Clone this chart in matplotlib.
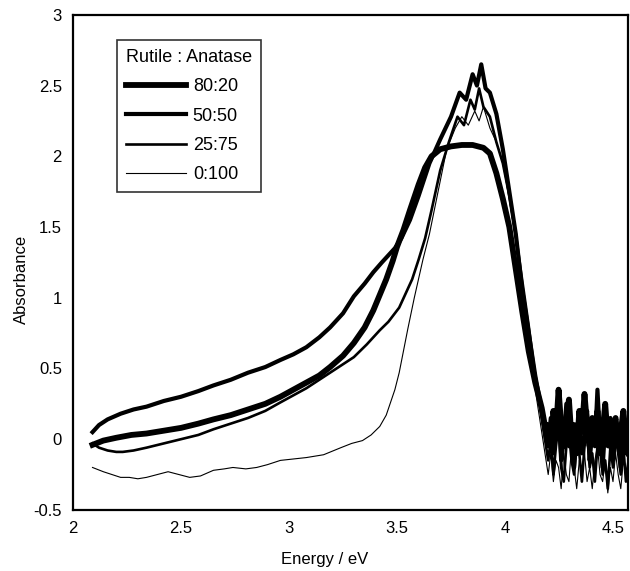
import matplotlib
matplotlib.use("Agg")
import matplotlib.pyplot as plt

plt.rcParams['font.family'] = ['Liberation Sans', 'DejaVu Sans']

# ---- data ----
tail_energy = [4.200, 4.212, 4.224, 4.236, 4.248, 4.260, 4.272, 4.284, 4.296,
               4.308, 4.320, 4.332, 4.344, 4.356, 4.368, 4.380, 4.392, 4.404,
               4.416, 4.428, 4.440, 4.452, 4.464, 4.476, 4.488, 4.500, 4.512,
               4.524, 4.536, 4.548, 4.560, 4.572]

energy_8020 = [2.09, 2.14, 2.20, 2.27, 2.34, 2.42, 2.50, 2.58, 2.65, 2.73, 2.81,
               2.89, 2.96, 3.02, 3.08, 3.14, 3.19, 3.25, 3.30, 3.35, 3.39, 3.42,
               3.45, 3.48, 3.50, 3.53, 3.56, 3.60, 3.63, 3.66, 3.70, 3.75, 3.80,
               3.85, 3.90, 3.93, 3.96, 3.99, 4.02, 4.05, 4.08, 4.11, 4.14, 4.17,
               4.19] + tail_energy
absorb_8020 = [-0.04, -0.01, 0.01, 0.03, 0.04, 0.06, 0.08, 0.11, 0.14, 0.17,
               0.21, 0.25, 0.30, 0.35, 0.40, 0.45, 0.51, 0.59, 0.68, 0.79, 0.91,
               1.02, 1.13, 1.26, 1.36, 1.48, 1.62, 1.80, 1.92, 2.00, 2.05, 2.07,
               2.08, 2.08, 2.06, 2.02, 1.88, 1.70, 1.50, 1.20, 0.90, 0.62, 0.40,
               0.22, 0.05] + \
              [0.10, -0.05, 0.20, 0.05, 0.35, 0.10, -0.05, 0.15, 0.28, 0.00,
               0.10, -0.10, 0.20, 0.05, 0.32, 0.10, -0.05, 0.15, 0.00, 0.20,
               -0.10, 0.05, 0.25, 0.00, -0.05, 0.10, 0.15, -0.05, 0.05, 0.20,
               0.00, -0.10]

energy_5050 = [2.09, 2.12, 2.16, 2.22, 2.28, 2.34, 2.42, 2.50, 2.58, 2.65, 2.73,
               2.81, 2.89, 2.96, 3.02, 3.08, 3.14, 3.19, 3.25, 3.30, 3.35, 3.39,
               3.43, 3.46, 3.49, 3.52, 3.56, 3.60, 3.65, 3.70, 3.75, 3.79, 3.82,
               3.85, 3.87, 3.89, 3.91, 3.93, 3.96, 3.99, 4.02, 4.05, 4.08, 4.11,
               4.14, 4.17, 4.19] + tail_energy
absorb_5050 = [0.05, 0.10, 0.14, 0.18, 0.21, 0.23, 0.27, 0.30, 0.34, 0.38, 0.42,
               0.47, 0.51, 0.56, 0.60, 0.65, 0.72, 0.79, 0.89, 1.01, 1.10, 1.18,
               1.25, 1.30, 1.35, 1.42, 1.55, 1.72, 1.95, 2.12, 2.28, 2.45, 2.40,
               2.58, 2.50, 2.65, 2.48, 2.45, 2.30, 2.05, 1.75, 1.45, 1.05, 0.75,
               0.45, 0.20, 0.00] + \
              [-0.05, 0.15, -0.10, 0.05, 0.20, -0.15, 0.00, 0.25, -0.05, 0.10,
               -0.20, 0.05, 0.15, -0.10, 0.00, 0.20, -0.15, 0.05, -0.05, 0.35,
               0.00, -0.20, 0.10, -0.05, 0.15, -0.15, 0.00, 0.10, -0.20, 0.05,
               -0.10, 0.00]

energy_2575 = [2.09, 2.12, 2.16, 2.20, 2.23, 2.28, 2.34, 2.42, 2.50, 2.58, 2.65,
               2.73, 2.81, 2.89, 2.96, 3.02, 3.08, 3.14, 3.19, 3.25, 3.30, 3.36,
               3.42, 3.46, 3.51, 3.54, 3.57, 3.60, 3.63, 3.66, 3.70, 3.74, 3.78,
               3.81, 3.84, 3.86, 3.88, 3.90, 3.93, 3.96, 3.99, 4.02, 4.05, 4.08,
               4.11, 4.14, 4.17, 4.19] + tail_energy
absorb_2575 = [-0.03, -0.06, -0.08, -0.09, -0.09, -0.08, -0.06, -0.03, 0.00,
               0.03, 0.07, 0.11, 0.15, 0.20, 0.26, 0.31, 0.36, 0.42, 0.47, 0.53,
               0.58, 0.67, 0.77, 0.83, 0.93, 1.03, 1.13, 1.27, 1.42, 1.62, 1.90,
               2.10, 2.28, 2.22, 2.40, 2.33, 2.48, 2.35, 2.28, 2.10, 1.95, 1.72,
               1.45, 1.12, 0.80, 0.45, 0.15, -0.05] + \
              [-0.15, 0.00, -0.25, -0.05, 0.10, -0.20, -0.30, -0.05, 0.05,
               -0.15, -0.25, 0.00, -0.10, -0.30, -0.05, 0.05, -0.20, -0.10,
               -0.30, -0.05, 0.00, -0.25, -0.15, -0.35, -0.05, -0.20, 0.05,
               -0.10, -0.25, -0.05, -0.30, -0.15]

energy_0100 = [2.09, 2.14, 2.18, 2.22, 2.26, 2.30, 2.34, 2.39, 2.44, 2.49, 2.54,
               2.59, 2.65, 2.70, 2.74, 2.80, 2.85, 2.90, 2.96, 3.02, 3.08, 3.16,
               3.24, 3.29, 3.34, 3.38, 3.42, 3.45, 3.47, 3.49, 3.51, 3.55, 3.58,
               3.62, 3.65, 3.69, 3.73, 3.77, 3.80, 3.83, 3.86, 3.88, 3.90, 3.93,
               3.96, 3.99, 4.02, 4.05, 4.08, 4.11, 4.14, 4.17, 4.19] + tail_energy
absorb_0100 = [-0.20, -0.23, -0.25, -0.27, -0.27, -0.28, -0.27, -0.25, -0.23,
               -0.25, -0.27, -0.26, -0.22, -0.21, -0.20, -0.21, -0.20, -0.18,
               -0.15, -0.14, -0.13, -0.11, -0.06, -0.03, -0.01, 0.03, 0.09,
               0.17, 0.26, 0.35, 0.47, 0.78, 1.00, 1.27, 1.45, 1.75, 2.05, 2.20,
               2.28, 2.22, 2.32, 2.25, 2.35, 2.20, 2.10, 1.95, 1.70, 1.40, 1.05,
               0.70, 0.35, 0.05, -0.15] + \
              [-0.25, -0.10, -0.30, -0.15, -0.20, -0.35, -0.10, -0.25, -0.30,
               -0.05, -0.20, -0.35, -0.15, -0.25, -0.10, -0.30, -0.20, -0.35,
               -0.15, -0.05, -0.25, -0.30, -0.15, -0.38, -0.20, -0.30, -0.10,
               -0.25, -0.35, -0.15, -0.25, -0.30]

labels = ['80:20', '50:50', '25:75', '0:100']
widths = [4.2, 3.0, 1.9, 0.8]
x_ticks = [2, 2.5, 3, 3.5, 4, 4.5]
y_ticks = [-0.5, 0, 0.5, 1, 1.5, 2, 2.5, 3]

# ---- figure ----
fig = plt.figure(figsize=(6.3, 5.71), dpi=100)
ax = fig.add_axes([0.116, 0.107, 0.881, 0.867])

series = [(energy_8020, absorb_8020), (energy_5050, absorb_5050),
          (energy_2575, absorb_2575), (energy_0100, absorb_0100)]
for (e, a), lab, lw in zip(series, labels, widths):
    ax.plot(e, a, color='black', lw=lw, label=lab, solid_joinstyle='round')

ax.set_xlim(2, 4.57)
ax.set_ylim(-0.5, 3)
ax.set_xticks(x_ticks)
ax.set_xticklabels(['2', '2.5', '3', '3.5', '4', '4.5'])
ax.set_yticks(y_ticks)
ax.set_yticklabels(['-0.5', '0', '0.5', '1', '1.5', '2', '2.5', '3'])
ax.tick_params(length=0, labelsize=12, pad=8)
for s in ax.spines.values():
    s.set_linewidth(1.6)

ax.set_xlabel('Energy / eV', fontsize=12)
ax.xaxis.set_label_coords(0.454, -0.086)
ax.set_ylabel('Absorbance', fontsize=12)
ax.yaxis.set_label_coords(-0.08, 0.465)

leg = ax.legend(title='Rutile : Anatase', loc='upper left',
                bbox_to_anchor=(0.079, 0.949), borderaxespad=0,
                fontsize=13, title_fontsize=13,
                frameon=True, fancybox=False, edgecolor='black',
                handlelength=3.3, borderpad=0.5, labelspacing=0.68,
                handletextpad=0.4)
leg.get_frame().set_linewidth(1.2)
leg._legend_box.align = "left"

fig.savefig('out.png', dpi=100)
